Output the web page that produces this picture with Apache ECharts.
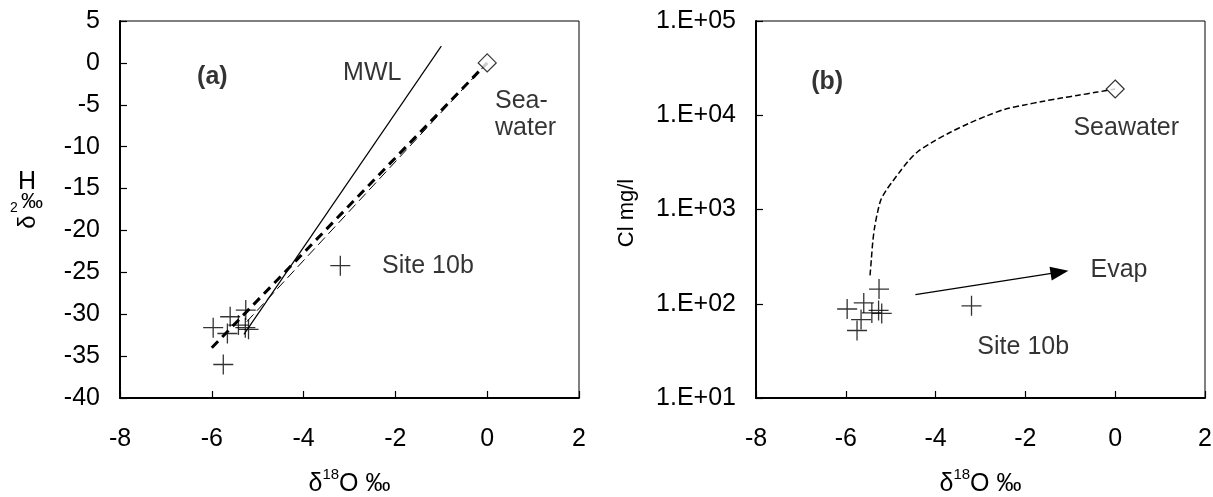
<!DOCTYPE html>
<html>
<head>
<meta charset="utf-8">
<script src="https://cdn.jsdelivr.net/npm/echarts@6/dist/echarts.min.js"></script>
<style>
  html, body { margin: 0; padding: 0; background: #fff; }
  #chart { width: 1213px; height: 497px; }
</style>
</head>
<body>
<div id="chart"></div>
<script>
// Groundwater samples: delta-18O (permil), delta-2H (permil), chloride (mg/l)
const sampleD18O = [-5.97, -5.60, -5.26, -5.27, -5.20, -5.75, -5.66, -5.42];
const sampleD2H  = [-31.6, -30.3, -29.5, -31.6, -31.8, -36.0, -32.3, -31.3];
const sampleCl   = [88, 102, 143, 85, 79, 52, 68, 80];

// Site 10b sample
const site10bD18O = -3.2;
const site10bD2H = -24.2;
const site10bCl = 95;

// Seawater end member
const seaD18O = 0;
const seaD2H = 0;
const seaCl = 19000;

// Meteoric water line (dD = 8 d18O + 10), drawn segment
const mwlD18O = [-5.3, -1.0];
const mwlD2H = [-32.4, 2.0];

// Mixing lines towards seawater in the dD / d18O plane
const mixD18O = [-6.0, 0];
const mixD2H = [-34.0, 0];
const mixThinD18O = [-5.24, 0];
const mixThinD2H = [-30.9, 0];

// Freshwater / seawater mixing curve in the Cl / d18O plane
const curveD18O = [-5.46, -5.43, -5.40, -5.36, -5.30, -5.22, -5.10, -4.97, -4.80, -4.60, -4.40, -4.08, -3.67, -3.26, -2.85, -2.45, -2.00, -1.63, -1.20, -0.82, -0.40, 0];
const curveCl   = [200, 300, 450, 640, 900, 1260, 1600, 1950, 2500, 3300, 4100, 5150, 6600, 8200, 9900, 11600, 12900, 14000, 15200, 16300, 17600, 19000];

// Evaporation trend arrow (tail, head)
const evapD18O = [-4.45, -1.24];
const evapCl = [125, 216];

// Axis ticks
const xTickMin = -8, xTickMax = 2, xTickStep = 2;
const yTickMinA = -40, yTickMaxA = 5, yTickStepA = 5;
const logTickLabels = ['1.E+01', '1.E+02', '1.E+03', '1.E+04', '1.E+05'];

// Text annotations (anchor in data units, left edge / vertical middle)
const notesA = ['(a)', 'MWL', 'Sea-\nwater', 'Site 10b'];
const notesAX = [-6.32, -3.14, 0.17, -2.29];
const notesAY = [-1.68, -1.2, -6.2, -24.24];
const notesB = ['(b)', 'Seawater', 'Evap', 'Site 10b'];
const notesBX = [-6.77, -0.93, -0.55, -3.07];
const notesBY = [22550, 7350, 230, 35];

const FONT = '"Liberation Sans", Arial, sans-serif';
const crossPath = 'path://M0,10L20,10M10,0L10,20';

const chart = echarts.init(document.getElementById('chart'), null, { renderer: 'canvas' });

function axisX(gridIndex) {
  return {
    gridIndex: gridIndex,
    type: 'value',
    min: xTickMin, max: xTickMax, interval: xTickStep,
    name: '{d|δ}{s|18}{o|O ‰}',
    nameLocation: 'middle',
    nameGap: 69,
    nameTextStyle: {
      rich: {
        d: { fontFamily: FONT, fontSize: 25, color: '#000', verticalAlign: 'bottom', lineHeight: 30 },
        s: { fontFamily: FONT, fontSize: 15, color: '#000', verticalAlign: 'top', lineHeight: 30 },
        o: { fontFamily: FONT, fontSize: 25, color: '#000', verticalAlign: 'bottom', lineHeight: 30 }
      }
    },
    axisLine: { show: true, onZero: false, lineStyle: { color: '#000', width: 2 } },
    axisTick: { show: true, inside: true, length: 7, lineStyle: { color: '#000', width: 1.2 } },
    axisLabel: { fontFamily: FONT, fontSize: 25, color: '#000', margin: 29 },
    splitLine: { show: false }
  };
}

function noteSeries(xIdx, yIdx, texts, xs, ys) {
  return {
    type: 'scatter',
    xAxisIndex: xIdx, yAxisIndex: yIdx,
    symbolSize: 0,
    silent: true,
    z: 10,
    data: texts.map((t, i) => ({ value: [xs[i], ys[i]], name: t })),
    label: {
      show: true,
      position: [0, 0],
      align: 'left',
      verticalAlign: 'middle',
      formatter: p => p.name,
      fontFamily: FONT,
      fontSize: 25,
      lineHeight: 27,
      color: '#000',
      fontWeight: 'normal'
    }
  };
}

const notesASeries = noteSeries(0, 0, notesA, notesAX, notesAY);
notesASeries.data[0].label = { fontWeight: 'bold' };
const notesBSeries = noteSeries(1, 1, notesB, notesBX, notesBY);
notesBSeries.data[0].label = { fontWeight: 'bold' };

const crossStyle = { color: 'transparent', borderColor: '#000', borderWidth: 1.3 };
const diamondStyle = { color: '#fff', borderColor: '#000', borderWidth: 1.2 };

const option = {
  animation: false,
  backgroundColor: '#fff',
  grid: [
    { left: 120, top: 21, width: 459, height: 377, outerBoundsMode: 'none', containLabel: false, show: true, borderColor: '#000', borderWidth: 1, backgroundColor: 'transparent' },
    { left: 756, top: 21, width: 449, height: 377, outerBoundsMode: 'none', containLabel: false, show: true, borderColor: '#000', borderWidth: 1, backgroundColor: 'transparent' }
  ],
  xAxis: [axisX(0), axisX(1)],
  yAxis: [
    {
      gridIndex: 0, type: 'value',
      min: yTickMinA, max: yTickMaxA, interval: yTickStepA,
      axisLine: { show: true, onZero: false, lineStyle: { color: '#000', width: 2 } },
      axisTick: { show: true, inside: true, length: 7, lineStyle: { color: '#000', width: 1.2 } },
      axisLabel: { fontFamily: FONT, fontSize: 25, color: '#000', margin: 20 },
      splitLine: { show: false }
    },
    {
      gridIndex: 1, type: 'log', logBase: 10,
      min: 10, max: 100000,
      axisLine: { show: true, onZero: false, lineStyle: { color: '#000', width: 2 } },
      axisTick: { show: true, inside: true, length: 7, lineStyle: { color: '#000', width: 1.2 } },
      axisLabel: {
        fontFamily: FONT, fontSize: 25, color: '#000', margin: 20,
        formatter: v => logTickLabels[Math.round(Math.log10(v)) - 1]
      },
      minorTick: { show: false },
      splitLine: { show: false }
    }
  ],
  graphic: [
    // left y title: delta-2H permil
    { type: 'text', x: 27, y: 182, style: { text: 'H', font: '25px ' + FONT, fill: '#000', align: 'center', verticalAlign: 'middle' } },
    { type: 'text', x: 32, y: 202, style: { text: '‰', font: '22px ' + FONT, fill: '#000', align: 'center', verticalAlign: 'middle' } },
    { type: 'text', x: 14, y: 208, style: { text: '2', font: '14px ' + FONT, fill: '#000', align: 'center', verticalAlign: 'middle' } },
    { type: 'text', x: 28, y: 222, rotation: Math.PI / 2, style: { text: 'δ', font: '24px ' + FONT, fill: '#000', align: 'center', verticalAlign: 'middle' } },
    // right y title: chloride
    { type: 'text', x: 627, y: 213, rotation: Math.PI / 2, style: { text: 'Cl mg/l', font: '22px ' + FONT, fill: '#000', align: 'center', verticalAlign: 'middle' } }
  ],
  series: [
    // ---- panel (a) ----
    {
      type: 'line', xAxisIndex: 0, yAxisIndex: 0, silent: true, showSymbol: false, z: 2,
      data: mwlD18O.map((x, i) => [x, mwlD2H[i]]),
      lineStyle: { color: '#000', width: 1.2, type: 'solid' }
    },
    {
      type: 'line', xAxisIndex: 0, yAxisIndex: 0, silent: true, showSymbol: false, z: 2,
      data: mixThinD18O.map((x, i) => [x, mixThinD2H[i]]),
      lineStyle: { color: '#000', width: 1, type: [10, 5] }
    },
    {
      type: 'line', xAxisIndex: 0, yAxisIndex: 0, silent: true, showSymbol: false, z: 3,
      data: mixD18O.map((x, i) => [x, mixD2H[i]]),
      lineStyle: { color: '#000', width: 3, type: [9, 6] }
    },
    {
      type: 'scatter', xAxisIndex: 0, yAxisIndex: 0, silent: true, z: 5,
      symbol: crossPath, symbolSize: 20, itemStyle: crossStyle,
      data: sampleD18O.map((x, i) => [x, sampleD2H[i]]).concat([[site10bD18O, site10bD2H]])
    },
    {
      type: 'scatter', xAxisIndex: 0, yAxisIndex: 0, silent: true, z: 6,
      symbol: 'diamond', symbolSize: 18, itemStyle: diamondStyle,
      data: [[seaD18O, seaD2H]]
    },
    notesASeries,
    // ---- panel (b) ----
    {
      type: 'line', xAxisIndex: 1, yAxisIndex: 1, silent: true, showSymbol: false, z: 2,
      smooth: 0.3,
      data: curveD18O.map((x, i) => [x, curveCl[i]]),
      lineStyle: { color: '#000', width: 1.5, type: [6, 3] }
    },
    {
      type: 'line', xAxisIndex: 1, yAxisIndex: 1, silent: true, showSymbol: false, z: 2,
      data: [],
      markLine: {
        silent: true,
        symbol: ['none', 'triangle'],
        symbolSize: [14, 18],
        label: { show: false },
        lineStyle: { color: '#000', width: 1.3, type: 'solid' },
        itemStyle: { color: '#000' },
        data: [[{ coord: [evapD18O[0], evapCl[0]] }, { coord: [evapD18O[1], evapCl[1]] }]]
      }
    },
    {
      type: 'scatter', xAxisIndex: 1, yAxisIndex: 1, silent: true, z: 5,
      symbol: crossPath, symbolSize: 20, itemStyle: crossStyle,
      data: sampleD18O.map((x, i) => [x, sampleCl[i]]).concat([[site10bD18O, site10bCl]])
    },
    {
      type: 'scatter', xAxisIndex: 1, yAxisIndex: 1, silent: true, z: 6,
      symbol: 'diamond', symbolSize: 18, itemStyle: diamondStyle,
      data: [[seaD18O, seaCl]]
    },
    notesBSeries
  ]
};

chart.setOption(option);
</script>
</body>
</html>
